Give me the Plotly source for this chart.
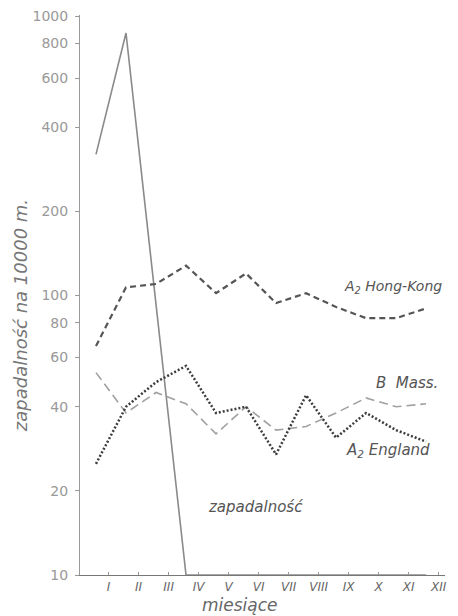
import math
import plotly.graph_objects as go

months = ["I", "II", "III", "IV", "V", "VI", "VII", "VIII", "IX", "X", "XI", "XII"]
month_pos = list(range(1, 13))

zapadalnosc = [320, 870, 93, 10, 10, 10, 10, 10, 10, 10, 10, 10]
hong_kong = [66, 107, 110, 128, 102, 120, 94, 102, 91, 83, 83, 90]
england = [25, 40, 49, 56, 38, 40, 27, 44, 31, 38, 33, 30]
b_mass = [53, 38, 45, 41, 32, 40, 33, 34, 38, 43, 40, 41]

y_ticks = [10, 20, 40, 60, 80, 100, 200, 400, 600, 800, 1000]
y_tick_text = [str(v) for v in y_ticks]

label_offset = 0.42  # roman numerals sit a little right of the data points

fig = go.Figure()

fig.add_trace(go.Scatter(
    x=month_pos, y=zapadalnosc, mode="lines",
    line=dict(color="#8a8a8a", width=1.6), cliponaxis=False, showlegend=False))
fig.add_trace(go.Scatter(
    x=month_pos, y=hong_kong, mode="lines",
    line=dict(color="#555555", width=2.2, dash="6px,4px"), cliponaxis=False, showlegend=False))
fig.add_trace(go.Scatter(
    x=month_pos, y=b_mass, mode="lines",
    line=dict(color="#a0a0a0", width=1.6, dash="9px,5px"), cliponaxis=False, showlegend=False))
fig.add_trace(go.Scatter(
    x=month_pos, y=england, mode="lines",
    line=dict(color="#3c3c3c", width=2.5, dash="2px,2px"), cliponaxis=False, showlegend=False))

annos = [
    dict(x=9.2, y=107, text="<i>A<sub>2</sub> Hong-Kong</i>", size=14),
    dict(x=10.25, y=48.5, text="<i>B  Mass.</i>", size=15),
    dict(x=9.25, y=28, text="<i>A<sub>2</sub> England</i>", size=15),
    dict(x=4.65, y=17.5, text="<i>zapadalność</i>", size=15),
]
for a in annos:
    fig.add_annotation(x=a["x"], y=math.log10(a["y"]), yref="y", xref="x", text=a["text"],
                       showarrow=False, xanchor="left", yanchor="middle",
                       font=dict(family="DejaVu Sans", size=a["size"], color="#555555"))

fig.add_annotation(x=-0.164, y=0.4625, xref="paper", yref="paper",
                   xanchor="center", yanchor="middle",
                   text="<i>zapadalność na 10000 m.</i>", textangle=-90, showarrow=False,
                   font=dict(family="DejaVu Sans", size=18, color="#777777"))

fig.add_annotation(x=0.438, y=-0.054, xref="paper", yref="paper",
                   xanchor="center", yanchor="middle",
                   text="<i>miesiące</i>", showarrow=False,
                   font=dict(family="DejaVu Sans", size=17, color="#666666"))

fig.update_xaxes(
    range=[0.467, 12.63], showgrid=False, zeroline=False,
    showline=True, linecolor="#777777", linewidth=1.2,
    tickvals=[m + label_offset for m in month_pos],
    ticktext=["<i>%s</i>" % m for m in months],
    ticks="inside", ticklen=3, tickcolor="#999999",
    tickfont=dict(family="DejaVu Sans", size=12, color="#666666"))
fig.update_yaxes(
    type="log", range=[1, 3.004], showgrid=False, zeroline=False,
    showline=True, linecolor="#999999", linewidth=1,
    tickvals=y_ticks, ticktext=y_tick_text,
    ticks="outside", ticklen=4, tickcolor="#999999", ticklabelstandoff=4,
    tickfont=dict(family="DejaVu Sans", size=14, color="#999999"))

fig.update_layout(
    width=442, height=608,
    margin=dict(l=72, r=5, t=7, b=41, autoexpand=False),
    paper_bgcolor="white", plot_bgcolor="white")

fig.write_html("out.html")
